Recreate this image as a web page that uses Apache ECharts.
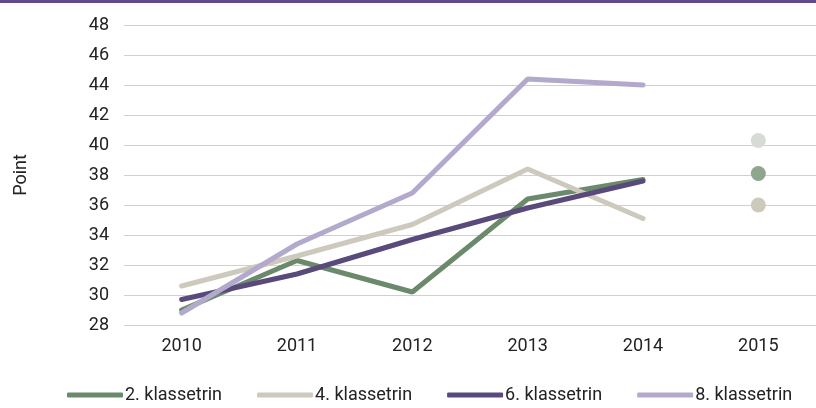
<!DOCTYPE html>
<html><head><meta charset="utf-8">
<script src="https://cdn.jsdelivr.net/npm/echarts@6/dist/echarts.min.js"></script>
<style>html,body{margin:0;padding:0;background:#fff}#c{width:816px;height:408px}</style>
</head><body><div id="c"></div>
<script>
var categories = ['2010','2011','2012','2013','2014','2015'];
var klasse2 = [29.0, 32.3, 30.2, 36.4, 37.7, null];
var klasse4 = [30.6, 32.6, 34.7, 38.4, 35.1, null];
var klasse6 = [29.7, 31.4, 33.7, 35.8, 37.6, null];
var klasse8 = [28.8, 33.4, 36.8, 44.4, 44.0, null];
var dots2015 = [40.3, 38.1, 36.0];
var dotColors = ['#d6dbd4', '#8ea68c', '#cdc9bb'];
var names = ['2. klassetrin','4. klassetrin','6. klassetrin','8. klassetrin'];
var colors = ['#6b8a6c','#cdc9bc','#5a4a7c','#b2a9cc'];
var font = 'Roboto';
var chart = echarts.init(document.getElementById('c'));
function lineSeries(i, data){
  return {name:names[i], type:'line', data:data, symbol:'none', smooth:false,
    lineStyle:{width:5, color:colors[i], cap:'round'}, itemStyle:{color:colors[i]}, z:2+i};
}
var dotSeries = dots2015.map(function(v,i){
  return {name:'dot'+i, type:'scatter', symbolSize:15,
    data:[[5, v]], itemStyle:{color:dotColors[i], opacity:1}, z:10};
});
chart.setOption({
  animation:false,
  textStyle:{fontFamily:font},
  graphic:[{type:'rect', shape:{x:0,y:0,width:816,height:3}, style:{fill:'#5f4b8b'}}],
  grid:{left:124, right:0, top:25, bottom:83},
  legend:{bottom:-1, left:62, itemWidth:56, itemHeight:5, itemGap:35,
    icon:'roundRect',
    data:names,
    textStyle:{fontSize:18, color:'#222', fontFamily:font, padding:[0,0,0,-3]}},
  xAxis:{type:'category', data:categories, boundaryGap:true,
    axisLine:{show:false}, axisTick:{show:false},
    axisLabel:{fontSize:18, color:'#222', margin:12}},
  yAxis:{type:'value', min:28, max:48, interval:2,
    name:'Point', nameLocation:'middle', nameGap:94, nameRotate:90,
    nameTextStyle:{fontSize:18, color:'#222'},
    axisLine:{show:false}, axisTick:{show:false},
    axisLabel:{fontSize:18, color:'#222', margin:15},
    splitLine:{lineStyle:{color:'#d0d0d0', width:1}}},
  series:[lineSeries(0,klasse2), lineSeries(1,klasse4), lineSeries(2,klasse6), lineSeries(3,klasse8)].concat(dotSeries)
});
</script></body></html>
